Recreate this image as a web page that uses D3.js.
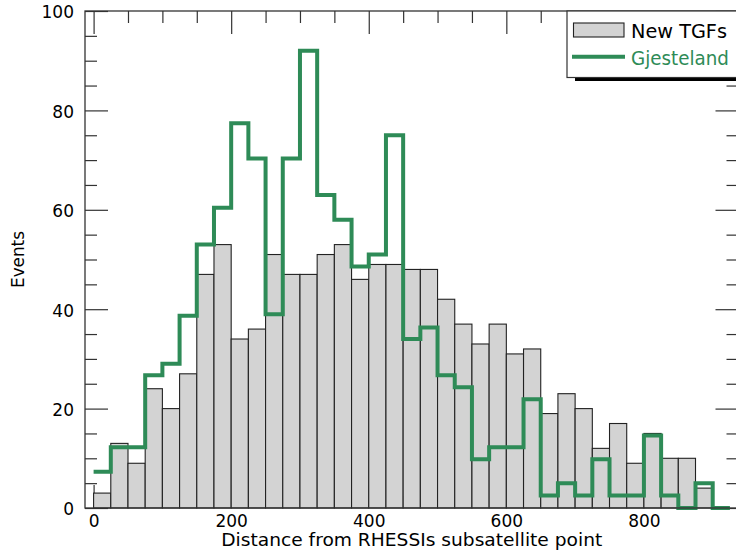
<!DOCTYPE html>
<html>
<head>
<meta charset="utf-8">
<script src="https://cdn.jsdelivr.net/npm/d3@7"></script>
<style>
	body { margin: 0; background: #fff; }
	svg { display: block; }
	text { font-family: "DejaVu Sans", sans-serif; fill: #000; }
</style>
</head>
<body>
<div id="chart"></div>
<script>

// left edges of the 25 km bins
var binStarts = [0, 25, 50, 75, 100, 125, 150, 175, 200, 225, 250, 275, 300, 325, 350, 375,
	400, 425, 450, 475, 500, 525, 550, 575, 600, 625, 650, 675, 700, 725, 750, 775,
	800, 825, 850, 875, 900];
var binEnd = 925;

// New TGFs histogram counts
var newTGFs = [3, 13, 9, 24, 20, 27, 47, 53, 34, 36, 51, 47, 47, 51, 53, 46,
	49, 49, 48, 48, 42, 37, 33, 37, 31, 32, 19, 23, 20, 12, 17, 9,
	15, 10, 10, 4, 0];

// Gjesteland (scaled) histogram
var gjesteland = [7.3, 12.2, 12.2, 26.7, 29, 38.7, 53, 60.4, 77.4, 70.3, 39, 70.3, 92, 63, 58, 48.6,
	51, 75, 34, 36.3, 26.7, 24.3, 9.8, 12.2, 12.2, 21.9, 2.5, 5, 2.5, 9.8, 2.5, 2.5,
	14.6, 2.5, 0, 5, 0];

var xMajor = [0, 200, 400, 600, 800];
var xMinor = [50, 100, 150, 250, 300, 350, 450, 500, 550, 650, 700, 750, 850, 900];
var yMajor = [0, 20, 40, 60, 80, 100];
var yMinor = [5, 10, 15, 25, 30, 35, 45, 50, 55, 65, 70, 75, 85, 90, 95];

var seriesNames = ["New TGFs", "Gjesteland"];
var green = "#2e8b57";

var width = 736, height = 558;
var plotLeft = 85, plotRight = 738.5, plotTop = 11, plotBottom = 508;

var svg = d3.select("#chart").append("svg")
	.attr("width", width)
	.attr("height", height);

var x = d3.scaleLinear().domain([-12.5, 937.5]).range([plotLeft, plotRight]);
var y = d3.scaleLinear().domain([0, 100]).range([plotBottom, plotTop]);

var axisColor = "#333";

// axes (ticks drawn first so the bars sit on top of the bottom ticks)
function styleAxis(g) {
	g.select(".domain").remove();
	g.selectAll(".tick line").attr("stroke", axisColor).attr("stroke-width", 1.2);
	g.selectAll(".tick text").style("font-size", "17px").attr("fill", "#000");
}

svg.append("g").attr("transform", "translate(0," + plotBottom + ")")
	.call(d3.axisBottom(x).tickValues(xMajor).tickSize(-23).tickPadding(7).tickFormat(d3.format("d")))
	.call(styleAxis);
svg.append("g").attr("transform", "translate(0," + plotBottom + ")")
	.call(d3.axisBottom(x).tickValues(xMinor).tickSize(-12).tickFormat(""))
	.call(styleAxis);
svg.append("g").attr("transform", "translate(0," + plotTop + ")")
	.call(d3.axisTop(x).tickValues(xMajor).tickSize(-23).tickFormat(""))
	.call(styleAxis);
svg.append("g").attr("transform", "translate(0," + plotTop + ")")
	.call(d3.axisTop(x).tickValues(xMinor).tickSize(-12).tickFormat(""))
	.call(styleAxis);

svg.append("g").attr("transform", "translate(" + plotLeft + ",0)")
	.call(d3.axisLeft(y).tickValues(yMajor).tickSize(-23).tickPadding(11).tickFormat(d3.format("d")))
	.call(styleAxis)
	.selectAll(".tick text").attr("dy", "0.4em");
svg.append("g").attr("transform", "translate(" + plotLeft + ",0)")
	.call(d3.axisLeft(y).tickValues(yMinor).tickSize(-12).tickFormat(""))
	.call(styleAxis);
svg.append("g").attr("transform", "translate(" + plotRight + ",0)")
	.call(d3.axisRight(y).tickValues(yMajor).tickSize(-23).tickFormat(""))
	.call(styleAxis);
svg.append("g").attr("transform", "translate(" + plotRight + ",0)")
	.call(d3.axisRight(y).tickValues(yMinor).tickSize(-12).tickFormat(""))
	.call(styleAxis);

// bars
svg.append("g").attr("class", "bars")
	.selectAll("rect")
	.data(newTGFs)
	.enter()
	.filter(function(d){ return d > 0; })
	.append("rect")
	.attr("x", function(d, i){ return x(binStarts[i]); })
	.attr("y", function(d){ return y(d); })
	.attr("width", function(d, i){ return x(binStarts[i] + 25) - x(binStarts[i]); })
	.attr("height", function(d){ return y(0) - y(d); })
	.attr("fill", "#d3d3d3")
	.attr("stroke", "#222")
	.attr("stroke-width", 1.1);

// gjesteland step line
var stepPts = binStarts.map(function(b, i){ return [b, gjesteland[i]]; });
stepPts.push([binEnd, gjesteland[gjesteland.length - 1]]);

var stepLine = d3.line()
	.x(function(d){ return x(d[0]); })
	.y(function(d){ return y(d[1]); })
	.curve(d3.curveStepAfter);

svg.append("path")
	.datum(stepPts)
	.attr("d", stepLine)
	.attr("fill", "none")
	.attr("stroke", green)
	.attr("stroke-width", 4)
	.attr("stroke-linejoin", "miter");

// frame
svg.append("rect")
	.attr("x", plotLeft).attr("y", plotTop)
	.attr("width", plotRight - plotLeft).attr("height", plotBottom - plotTop)
	.attr("fill", "none")
	.attr("stroke", axisColor)
	.attr("stroke-width", 1.3);

// axis titles
svg.append("text")
	.text("Distance from RHESSIs subsatellite point")
	.attr("x", (plotLeft + plotRight) / 2)
	.attr("y", 546)
	.attr("text-anchor", "middle")
	.attr("textLength", 381)
	.attr("lengthAdjust", "spacingAndGlyphs")
	.style("font-size", "17.5px");

svg.append("text")
	.text("Events")
	.attr("transform", "translate(24," + ((plotTop + plotBottom) / 2) + ") rotate(-90)")
	.attr("text-anchor", "middle")
	.attr("textLength", 57)
	.attr("lengthAdjust", "spacingAndGlyphs")
	.style("font-size", "17.5px");

// legend
var legend = svg.append("g").attr("class", "legend");
legend.append("rect")
	.attr("x", 575).attr("y", 78)
	.attr("width", 200).attr("height", 3)
	.attr("fill", "#000");
legend.append("rect")
	.attr("x", 567).attr("y", plotTop)
	.attr("width", 200).attr("height", 66.5)
	.attr("fill", "#fff")
	.attr("stroke", axisColor)
	.attr("stroke-width", 1.2);
legend.append("rect")
	.attr("x", 573.5).attr("y", 23)
	.attr("width", 50.5).attr("height", 14)
	.attr("fill", "#d3d3d3")
	.attr("stroke", "#222")
	.attr("stroke-width", 1.1);
legend.append("text")
	.text(seriesNames[0])
	.attr("x", 631).attr("y", 37.5)
	.attr("textLength", 96)
	.attr("lengthAdjust", "spacingAndGlyphs")
	.style("font-size", "19px");
legend.append("line")
	.attr("x1", 572).attr("x2", 625)
	.attr("y1", 56.7).attr("y2", 56.7)
	.attr("stroke", green)
	.attr("stroke-width", 4);
legend.append("text")
	.text(seriesNames[1])
	.attr("x", 631).attr("y", 64.5)
	.attr("textLength", 98)
	.attr("lengthAdjust", "spacingAndGlyphs")
	.style("font-size", "19px")
	.style("fill", green);

</script>
</body>
</html>
